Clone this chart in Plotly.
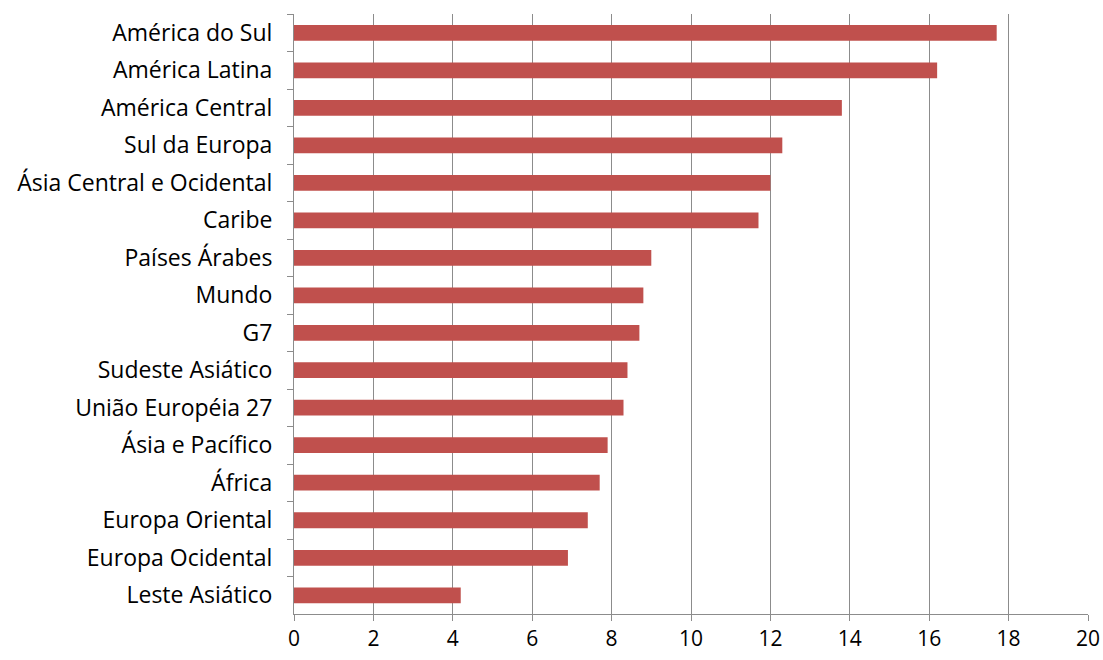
import plotly.graph_objects as go

categories = ["América do Sul", "América Latina", "América Central", "Sul da Europa",
              "Ásia Central e Ocidental", "Caribe", "Países Árabes", "Mundo", "G7",
              "Sudeste Asiático", "União Européia 27", "Ásia e Pacífico", "África",
              "Europa Oriental", "Europa Ocidental", "Leste Asiático"]
values = [17.7, 16.2, 13.8, 12.3, 12.0, 11.7, 9.0, 8.8, 8.7, 8.4, 8.3, 7.9, 7.7, 7.4, 6.9, 4.2]
x_ticks = [0, 2, 4, 6, 8, 10, 12, 14, 16, 18, 20]

fig = go.Figure(go.Bar(
    y=categories, x=values, orientation="h",
    marker=dict(color="#C0504D", line=dict(width=0)),
))

fig.update_layout(
    width=1103, height=660,
    margin=dict(l=294, r=15, t=14, b=46),
    paper_bgcolor="white", plot_bgcolor="white",
    bargap=0.58,
    showlegend=False,
    font=dict(family="Open Sans, Lato, sans-serif", size=20, color="#000000"),
)
fig.update_xaxes(
    range=[0, 20], tickvals=x_ticks, ticktext=[str(t) for t in x_ticks],
    showgrid=True, gridcolor="#8c8c8c", gridwidth=1,
    showline=True, linecolor="#8c8c8c", linewidth=1,
    ticks="outside", ticklen=6, tickcolor="#8c8c8c",
    zeroline=False, tickfont=dict(size=21), automargin=False,
)
fig.update_yaxes(
    autorange="reversed", categoryorder="array", categoryarray=categories,
    showline=True, linecolor="#8c8c8c", linewidth=1, mirror=False,
    ticks="outside", ticklen=6, tickcolor="#8c8c8c", tickson="boundaries",
    showgrid=False, tickfont=dict(size=23), ticklabelstandoff=16, automargin=False,
)

fig.write_html("out.html", config={"displayModeBar": False},
               post_script="document.body.style.margin='0';")
